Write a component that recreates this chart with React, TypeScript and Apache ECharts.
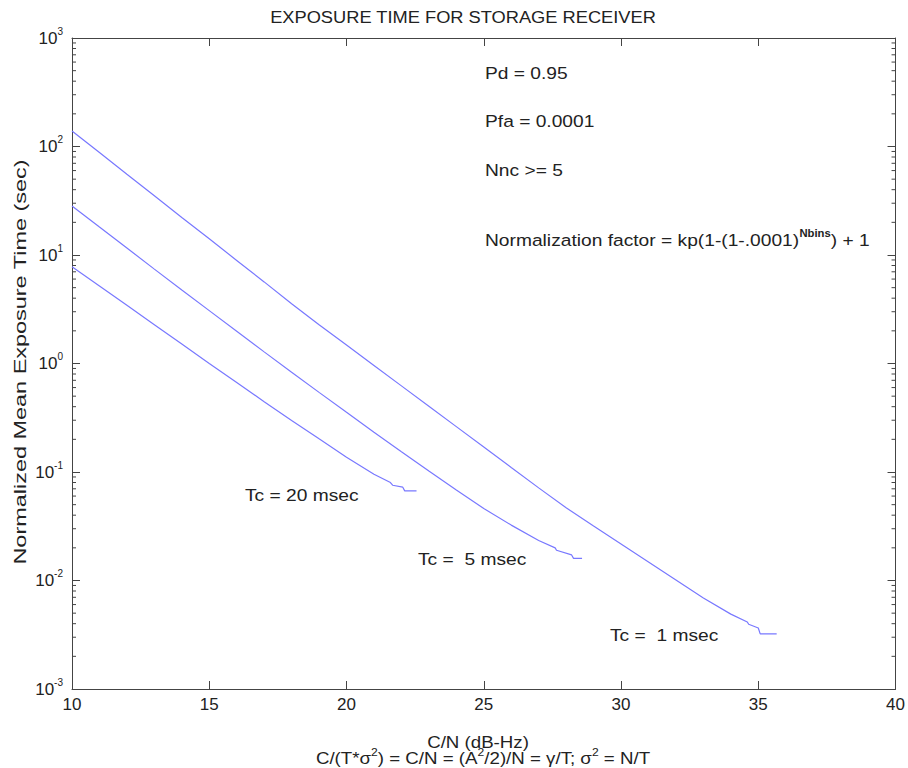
import React, { useEffect, useRef } from "react";
import * as echarts from "echarts";

const FONT = '"Liberation Sans", Arial, Helvetica, sans-serif';
const TEXT_COLOR = "#222";
const AXIS_COLOR = "#444";
const LINE_COLOR = "#7878ff";

// C/N (dB-Hz) values and normalized mean exposure time (sec) per curve
const cnTc1 = [10, 11, 12, 13, 14, 15, 16, 17, 18, 19, 20, 21, 22, 23, 24, 25, 26, 27, 28, 29, 30, 31, 32, 33, 34, 34.6, 34.65, 35.0, 35.07, 35.67];
const timeTc1 = [139, 87.9, 55.6, 35.2, 22.2, 14.1, 8.91, 5.65, 3.56, 2.28, 1.48, 0.959, 0.622, 0.404, 0.262, 0.17, 0.11, 0.0714, 0.0468, 0.0318, 0.0217, 0.0148, 0.0101, 0.00689, 0.0049, 0.00415, 0.00395, 0.00365, 0.00322, 0.00322];

const cnTc5 = [10, 11, 12, 13, 14, 15, 16, 17, 18, 19, 20, 21, 22, 23, 24, 25, 26, 27, 27.6, 27.65, 28.2, 28.27, 28.58];
const timeTc5 = [28.3, 18.1, 11.6, 7.41, 4.76, 3.07, 1.98, 1.28, 0.832, 0.542, 0.355, 0.233, 0.154, 0.102, 0.0684, 0.046, 0.0324, 0.0234, 0.0200, 0.0190, 0.0172, 0.0160, 0.0160];

const cnTc20 = [10, 11, 12, 13, 14, 15, 16, 17, 18, 19, 20, 21, 21.6, 21.68, 22.05, 22.12, 22.55];
const timeTc20 = [7.8, 5.18, 3.44, 2.28, 1.51, 1.0, 0.667, 0.445, 0.299, 0.202, 0.137, 0.0955, 0.080, 0.0755, 0.0725, 0.0670, 0.0670];

const seriesNames = ["Tc = 1 msec", "Tc = 5 msec", "Tc = 20 msec"];
const curveLabels = ["Tc =  1 msec", "Tc =  5 msec", "Tc = 20 msec"];
const notes = ["Pd = 0.95", "Pfa = 0.0001", "Nnc >= 5"];

const xTicks = { min: 10, max: 40, interval: 5 };
const yRange = { min: 0.001, max: 1000 };

export default function App() {
  const ref = useRef<HTMLDivElement>(null);

  useEffect(() => {
    const chart = echarts.init(ref.current!, null, { renderer: "svg" });
    const pairs = (xs: number[], ys: number[]) => xs.map((x, i) => [x, ys[i]]);

    const minor: number[][] = [];
    for (let k = -3; k < 3; k++) {
      for (let m = 2; m <= 9; m++) minor.push([10, m * Math.pow(10, k)]);
    }

    const axisLine = { show: true, onZero: false, lineStyle: { color: AXIS_COLOR, width: 1 } };
    const axisTick = { show: true, inside: true, length: 8, lineStyle: { color: AXIS_COLOR, width: 1 } };

    const yCommon: any = {
      type: "log",
      logBase: 10,
      min: yRange.min,
      max: yRange.max,
      splitNumber: 6,
      axisLine,
      axisTick,
      splitLine: { show: false },
      minorTick: { show: false },
    };
    const xCommon: any = {
      type: "value",
      min: xTicks.min,
      max: xTicks.max,
      interval: xTicks.interval,
      axisLine,
      axisTick,
      splitLine: { show: false },
    };

    const baseText = { fontFamily: FONT, fontSize: 17, fill: TEXT_COLOR };

    const graphic: any[] = [
      {
        type: "text",
        x: 463,
        y: 17,
        scaleX: 1.075,
        style: { ...baseText, text: "EXPOSURE TIME FOR STORAGE RECEIVER", align: "center", verticalAlign: "middle" },
      },
      ...notes.map((t, i) => ({
        type: "text",
        x: 485,
        y: [73, 121, 170][i],
        scaleX: 1.13,
        style: { ...baseText, text: t, align: "left", verticalAlign: "middle" },
      })),
      {
        type: "text",
        x: 485,
        y: 240,
        scaleX: 1.13,
        style: {
          text: "{a|Normalization factor = kp(1-(1-.0001)}{s|Nbins}{a|) + 1}",
          align: "left",
          verticalAlign: "middle",
          rich: {
            a: { fontFamily: FONT, fontSize: 17, fill: TEXT_COLOR, lineHeight: 24 },
            s: { fontFamily: FONT, fontSize: 10, fontWeight: "bold", fill: TEXT_COLOR, lineHeight: 10, verticalAlign: "top" },
          },
        },
      },
      ...curveLabels.map((t, i) => ({
        type: "text",
        x: [610, 418, 245][i],
        y: [635, 559, 495][i],
        scaleX: 1.13,
        style: { ...baseText, text: t, align: "left", verticalAlign: "middle" },
      })),
      {
        type: "text",
        x: 20,
        y: 362,
        rotation: Math.PI / 2,
        scaleX: 1.38,
        style: { ...baseText, text: "Normalized Mean Exposure Time (sec)", align: "center", verticalAlign: "middle" },
      },
      {
        type: "text",
        x: 478,
        y: 742,
        scaleX: 1.1,
        style: { ...baseText, text: "C/N (dB-Hz)", align: "center", verticalAlign: "middle" },
      },
      {
        type: "text",
        x: 483,
        y: 758,
        scaleX: 1.1,
        style: {
          text: "{a|C/(T*σ}{s|2}{a|) = C/N = (A}{s|2}{a|/2)/N = γ/T; σ}{s|2}{a| = N/T}",
          align: "center",
          verticalAlign: "middle",
          rich: {
            a: { fontFamily: FONT, fontSize: 17, fill: TEXT_COLOR, lineHeight: 22 },
            s: { fontFamily: FONT, fontSize: 11, fill: TEXT_COLOR, lineHeight: 11, verticalAlign: "top" },
          },
        },
      },
    ];

    const curves = [
      pairs(cnTc1, timeTc1),
      pairs(cnTc5, timeTc5),
      pairs(cnTc20, timeTc20),
    ];

    const option: any = {
      animation: false,
      backgroundColor: "#fff",
      grid: { left: 72, right: 11, top: 38, bottom: 79, containLabel: false },
      xAxis: [
        {
          ...xCommon,
          position: "bottom",
          axisLabel: { fontFamily: FONT, fontSize: 17, color: TEXT_COLOR, margin: 7 },
        },
        { ...xCommon, position: "top", axisLabel: { show: false } },
      ],
      yAxis: [
        {
          ...yCommon,
          position: "left",
          axisLabel: {
            margin: 9,
            formatter: (v: number) => `{b|10}{e|${Math.round(Math.log10(v))}}`,
            rich: {
              b: { fontFamily: FONT, fontSize: 17, color: TEXT_COLOR, lineHeight: 24 },
              e: { fontFamily: FONT, fontSize: 10, color: TEXT_COLOR, lineHeight: 10, verticalAlign: "top" },
            },
          },
        },
        { ...yCommon, position: "right", axisLabel: { show: false } },
      ],
      series: [
        ...curves.map((d, i) => ({
          name: seriesNames[i],
          type: "line",
          data: d,
          xAxisIndex: 0,
          yAxisIndex: 0,
          showSymbol: false,
          symbol: "none",
          lineStyle: { color: LINE_COLOR, width: 1.2 },
          silent: true,
        })),
        {
          type: "custom",
          xAxisIndex: 0,
          yAxisIndex: 0,
          silent: true,
          clip: false,
          data: minor,
          encode: { x: 0, y: 1 },
          renderItem: (_p: any, api: any) => {
            const v = api.value(1);
            const l = api.coord([xTicks.min, v]);
            const r = api.coord([xTicks.max, v]);
            const st = { stroke: AXIS_COLOR, lineWidth: 1 };
            return {
              type: "group",
              children: [
                { type: "line", shape: { x1: l[0], y1: l[1], x2: l[0] + 4, y2: l[1] }, style: st },
                { type: "line", shape: { x1: r[0] - 4, y1: r[1], x2: r[0], y2: r[1] }, style: st },
              ],
            };
          },
        },
      ],
      graphic,
    };

    chart.setOption(option);
    return () => chart.dispose();
  }, []);

  return (
    <div
      ref={ref}
      style={{ position: "fixed", left: 0, top: 0, width: 908, height: 768, background: "#fff" }}
    />
  );
}
